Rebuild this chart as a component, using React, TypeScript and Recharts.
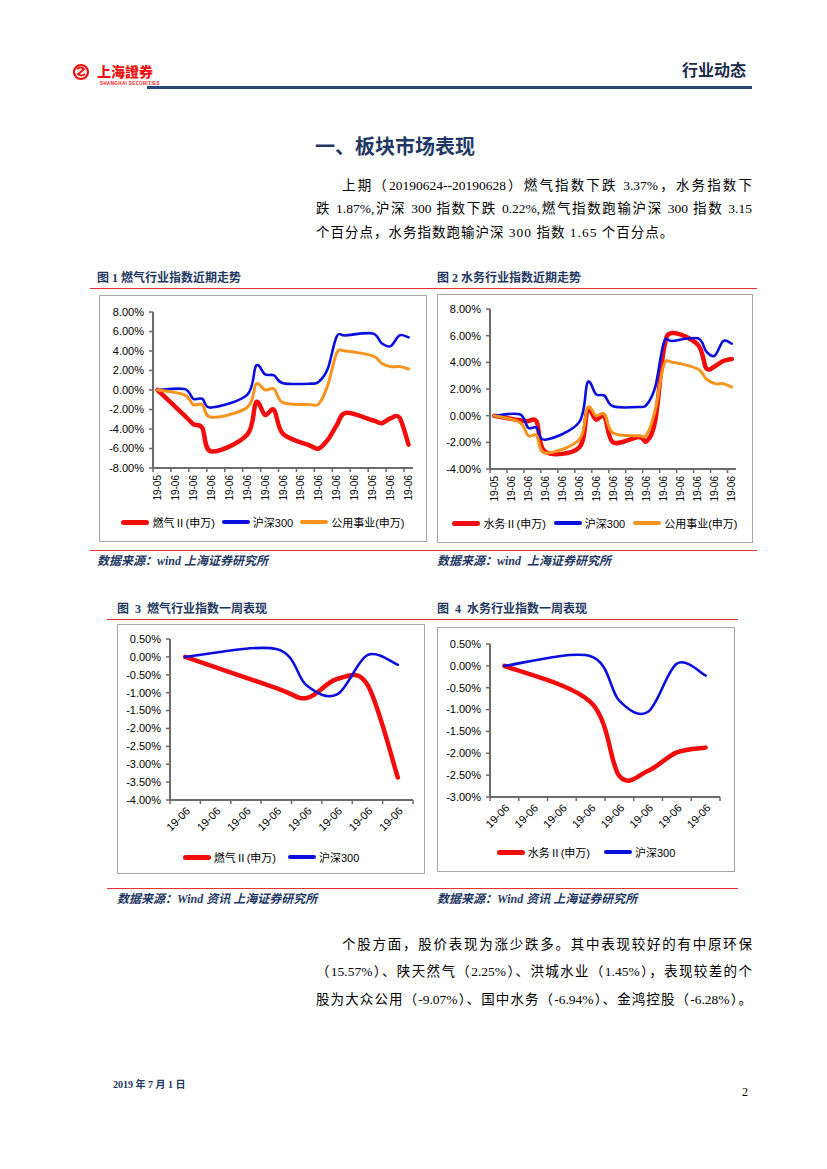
import React from 'react';
import { LineChart, Line, XAxis, YAxis } from 'recharts';

// 近期走势：日期轴 2019-05-31 ~ 2019-06-28（交易日）
const trendDates = [
  '2019-05-31', '2019-06-03', '2019-06-04', '2019-06-05', '2019-06-06',
  '2019-06-10', '2019-06-11', '2019-06-12', '2019-06-13', '2019-06-14',
  '2019-06-17', '2019-06-18', '2019-06-19', '2019-06-20', '2019-06-21',
  '2019-06-24', '2019-06-25', '2019-06-26', '2019-06-27', '2019-06-28',
];
const gasTrend = [0, -2.6, -3.5, -3.9, -6.3, -4.6, -1.25, -2.55, -2.05, -4.5, -5.7, -6.0, -5.1, -3.6, -2.35, -3.1, -3.4, -2.9, -2.85, -5.6];
const waterTrend = [0, -0.35, -0.4, -0.45, -2.7, -2.4, 0.4, -0.3, -0.05, -2.0, -1.6, -1.9, -0.3, 5.0, 6.2, 5.32, 3.55, 3.7, 4.1, 4.25];
const hs300Trend = [0, 0.1, -0.9, -0.9, -1.8, -0.5, 2.5, 1.6, 1.5, 0.7, 0.65, 0.85, 2.2, 5.5, 5.6, 5.8, 4.8, 4.5, 5.6, 5.4];
const utilityTrend = [0, -0.5, -1.5, -1.5, -2.8, -1.8, 0.6, 0.0, 0.1, -1.3, -1.5, -1.4, 0.5, 3.8, 4.0, 3.5, 2.75, 2.4, 2.4, 2.15];
const trendTickLabels = ['19-05', '19-06', '19-06', '19-06', '19-06', '19-06', '19-06', '19-06', '19-06', '19-06', '19-06', '19-06', '19-06', '19-06', '19-06'];
const gasTrendTicks = [-8, -6, -4, -2, 0, 2, 4, 6, 8];
const waterTrendTicks = [-4, -2, 0, 2, 4, 6, 8];

// 一周表现：日期轴 2019-06-21 ~ 2019-06-28
const weekDates = ['2019-06-21', '2019-06-24', '2019-06-25', '2019-06-26', '2019-06-27', '2019-06-28'];
const gasWeek = [0, -0.87, -1.15, -0.62, -0.78, -3.37];
const waterWeek = [0, -0.83, -2.52, -2.4, -1.98, -1.87];
const hs300Week = [0, 0.22, -0.8, -1.05, 0.05, -0.22];
const weekTickLabels = ['19-06', '19-06', '19-06', '19-06', '19-06', '19-06', '19-06', '19-06'];
const gasWeekTicks = [-4, -3.5, -3, -2.5, -2, -1.5, -1, -0.5, 0, 0.5];
const waterWeekTicks = [-3, -2.5, -2, -1.5, -1, -0.5, 0, 0.5];

const SANS = '"Liberation Sans", Arial, "Noto Sans CJK SC", sans-serif';
const SERIF = '"Liberation Serif", "Times New Roman", "Noto Sans CJK SC", serif';
const CJK = '"Noto Sans CJK SC", sans-serif';
const NAVY = '#1F3864';
const RULE = '#E3342F';
const AXIS = '#6b6b6b';

const RED = '#F20D0D';
const BLUE = '#0A0FE0';
const ORANGE = '#F7941D';

type Series = { key: string; name: string; color: string; width: number };

const dayOffset = (dates: string[]) =>
  dates.map((d) => Math.round((Date.parse(d) - Date.parse(dates[0])) / 86400000));

const buildRows = (dates: string[], cols: Record<string, number[]>) => {
  const days = dayOffset(dates);
  return days.map((day, i) => {
    const row: Record<string, number> = { day };
    Object.keys(cols).forEach((k) => (row[k] = cols[k][i]));
    return row;
  });
};

const gasTrendRows = buildRows(trendDates, { gas: gasTrend, hs300: hs300Trend, util: utilityTrend });
const waterTrendRows = buildRows(trendDates, { water: waterTrend, hs300: hs300Trend, util: utilityTrend });
const gasWeekRows = buildRows(weekDates, { gas: gasWeek, hs300: hs300Week });
const waterWeekRows = buildRows(weekDates, { water: waterWeek, hs300: hs300Week });

const gasSeries: Series[] = [
  { key: 'gas', name: '燃气Ⅱ(申万)', color: RED, width: 4.5 },
  { key: 'hs300', name: '沪深300', color: BLUE, width: 2.6 },
  { key: 'util', name: '公用事业(申万)', color: ORANGE, width: 3 },
];
const waterSeries: Series[] = [
  { key: 'water', name: '水务Ⅱ(申万)', color: RED, width: 4.5 },
  { key: 'hs300', name: '沪深300', color: BLUE, width: 2.6 },
  { key: 'util', name: '公用事业(申万)', color: ORANGE, width: 3 },
];

// Excel 风格平滑线（Catmull-Rom）
const excelSmooth = (context: any) => {
  let pts: [number, number][] = [];
  return {
    areaStart() {},
    areaEnd() {},
    lineStart() {
      pts = [];
    },
    point(x: number, y: number) {
      pts.push([+x, +y]);
    },
    lineEnd() {
      if (!pts.length) return;
      context.moveTo(pts[0][0], pts[0][1]);
      for (let i = 0; i < pts.length - 1; i++) {
        const p0 = pts[Math.max(i - 1, 0)];
        const p1 = pts[i];
        const p2 = pts[i + 1];
        const p3 = pts[Math.min(i + 2, pts.length - 1)];
        context.bezierCurveTo(
          p1[0] + (p2[0] - p0[0]) / 6,
          p1[1] + (p2[1] - p0[1]) / 6,
          p2[0] - (p3[0] - p1[0]) / 6,
          p2[1] - (p3[1] - p1[1]) / 6,
          p2[0],
          p2[1]
        );
      }
    },
  };
};

interface ChartProps {
  left: number;
  top: number;
  width: number;
  height: number;
  marginTop: number;
  marginRight: number;
  yAxisWidth: number;
  xAxisHeight: number;
  data: Record<string, number>[];
  series: Series[];
  yTicks: number[];
  xSpan: number;
  tickLabels: string[];
  tickStep: number;
  endTick: boolean;
  angle: number;
}

function IndexChart(p: ChartProps) {
  const plotW = p.width - p.marginRight - p.yAxisWidth;
  const bandPx = plotW / p.xSpan;
  const xTicks = p.tickLabels.map((_, k) => -0.5 + p.tickStep * k);
  if (p.endTick) xTicks.push(p.xSpan - 0.5);

  const renderTick = (props: any) => {
    const { x, y, index } = props;
    const label = p.tickLabels[index];
    if (!label) return <g />;
    const cx = x + bandPx / 2;
    if (p.angle === -90) {
      return (
        <text
          transform={`translate(${cx},${y + 1}) rotate(-90)`}
          textAnchor="end"
          dominantBaseline="central"
          fontSize={10}
          fontFamily={SANS}
          fill="#000"
        >
          {label}
        </text>
      );
    }
    return (
      <text
        transform={`translate(${cx + 3},${y + 3}) rotate(-45)`}
        textAnchor="end"
        dy="0.35em"
        fontSize={11}
        fontFamily={SANS}
        fill="#000"
      >
        {label}
      </text>
    );
  };

  return (
    <div style={{ position: 'absolute', left: p.left, top: p.top }}>
      <LineChart
        width={p.width}
        height={p.height}
        data={p.data}
        margin={{ top: p.marginTop, right: p.marginRight, bottom: 0, left: 0 }}
      >
        <XAxis
          type="number"
          dataKey="day"
          domain={[-0.5, p.xSpan - 0.5]}
          ticks={xTicks}
          interval={0}
          height={p.xAxisHeight}
          tickSize={4}
          tickMargin={2}
          axisLine={{ stroke: AXIS, strokeWidth: 2 }}
          tickLine={{ stroke: AXIS, strokeWidth: 1.5 }}
          tick={renderTick}
        />
        <YAxis
          type="number"
          domain={[p.yTicks[0], p.yTicks[p.yTicks.length - 1]]}
          ticks={p.yTicks}
          interval={0}
          width={p.yAxisWidth}
          tickSize={4}
          tickMargin={5}
          axisLine={{ stroke: AXIS, strokeWidth: 2 }}
          tickLine={{ stroke: AXIS, strokeWidth: 1.5 }}
          tick={{ fill: '#000', fontSize: 11, fontFamily: SANS }}
          tickFormatter={(v: number) => `${v.toFixed(2)}%`}
        />
        {p.series.map((s) => (
          <Line
            key={s.key}
            dataKey={s.key}
            name={s.name}
            type={excelSmooth as any}
            stroke={s.color}
            strokeWidth={s.width}
            strokeLinecap="round"
            strokeLinejoin="round"
            dot={false}
            activeDot={false}
            isAnimationActive={false}
          />
        ))}
      </LineChart>
    </div>
  );
}

function LegendRow({ series, left, top, width, gap }: { series: Series[]; left: number; top: number; width: number; gap: number }) {
  return (
    <div
      style={{
        position: 'absolute',
        left,
        top,
        width,
        height: 16,
        display: 'flex',
        justifyContent: 'center',
        alignItems: 'center',
        fontFamily: SANS,
        fontSize: 11,
        color: '#000',
        whiteSpace: 'nowrap',
      }}
    >
      {series.map((s, i) => (
        <div key={s.key} style={{ display: 'flex', alignItems: 'center', marginLeft: i ? gap : 0 }}>
          <span style={{ display: 'inline-block', width: 28, height: s.width + 0.5, background: s.color, borderRadius: 3 }} />
          <span style={{ marginLeft: 3 }}>{s.name}</span>
        </div>
      ))}
    </div>
  );
}

const Rule = ({ left, top, width }: { left: number; top: number; width: number }) => (
  <div style={{ position: 'absolute', left, top, width, height: 1.5, background: RULE }} />
);

const Box = ({ left, top, width, height }: { left: number; top: number; width: number; height: number }) => (
  <div style={{ position: 'absolute', left, top, width, height, border: '1px solid #a6a6a6', boxSizing: 'border-box' }} />
);

const Caption = ({ left, top, children }: { left: number; top: number; children: React.ReactNode }) => (
  <div
    style={{
      position: 'absolute',
      left,
      top,
      fontFamily: SERIF,
      fontWeight: 'bold',
      fontSize: 12,
      lineHeight: '16px',
      color: NAVY,
      whiteSpace: 'pre',
    }}
  >
    {children}
  </div>
);

const Source = ({ left, top, children }: { left: number; top: number; children: React.ReactNode }) => (
  <div
    style={{
      position: 'absolute',
      left,
      top,
      fontFamily: SERIF,
      fontWeight: 'bold',
      fontStyle: 'italic',
      fontSize: 12,
      lineHeight: '16px',
      color: NAVY,
      whiteSpace: 'pre',
    }}
  >
    {children}
  </div>
);

const TextLine = ({ top, indent, justify, spacing, children }: { top: number; indent?: boolean; justify?: boolean; spacing?: number; children: React.ReactNode }) => (
  <div
    style={{
      position: 'absolute',
      left: indent ? 342 : 316,
      top,
      width: indent ? 410 : 436,
      fontFamily: SERIF,
      fontSize: 13.5,
      lineHeight: '20px',
      color: '#000',
      letterSpacing: spacing ?? 0,
      textAlign: 'justify',
      textAlignLast: justify ? 'justify' : 'left',
    }}
  >
    {children}
  </div>
);

export default function App() {
  return (
    <div style={{ position: 'absolute', left: 0, top: 0, width: 827, height: 1169, background: '#fff', overflow: 'hidden' }}>
      {/* 页眉 */}
      <svg style={{ position: 'absolute', left: 72, top: 63 }} width={18} height={18}>
        <circle cx={9} cy={9} r={7} fill="none" stroke="#E11" strokeWidth={2.2} />
        <path d="M5 6 Q9 3 12 6 Q9 9 6 11 Q9 14 13 11" fill="none" stroke="#E11" strokeWidth={2} />
      </svg>
      <div
        style={{
          position: 'absolute',
          left: 97,
          top: 62,
          fontFamily: CJK,
          fontWeight: 900,
          fontSize: 14,
          lineHeight: '18px',
          color: '#E11',
        }}
      >
        上海證券
      </div>
      <div
        style={{
          position: 'absolute',
          left: 100,
          top: 81,
          fontFamily: SANS,
          fontWeight: 'bold',
          fontSize: 4.5,
          lineHeight: '6px',
          color: '#E11',
          letterSpacing: 0.4,
          whiteSpace: 'nowrap',
        }}
      >
        SHANGHAI SECURITIES
      </div>
      <div
        style={{
          position: 'absolute',
          left: 682,
          top: 59,
          fontFamily: CJK,
          fontWeight: 'bold',
          fontSize: 16,
          lineHeight: '20px',
          color: '#1b2a48',
        }}
      >
        行业动态
      </div>
      <div style={{ position: 'absolute', left: 147, top: 86, width: 605, height: 2.5, background: '#244A7C' }} />

      {/* 标题与正文 */}
      <div
        style={{
          position: 'absolute',
          left: 315,
          top: 132,
          fontFamily: CJK,
          fontWeight: 'bold',
          fontSize: 20,
          lineHeight: '28px',
          color: NAVY,
        }}
      >
        一、板块市场表现
      </div>
      <TextLine top={176} indent justify>
        上期（20190624--20190628）燃气指数下跌 3.37%，水务指数下
      </TextLine>
      <TextLine top={199} justify>
        跌 1.87%,沪深 300 指数下跌 0.22%,燃气指数跑输沪深 300 指数 3.15
      </TextLine>
      <TextLine top={223} spacing={1}>个百分点，水务指数跑输沪深 300 指数 1.65 个百分点。</TextLine>

      {/* 图 1 / 图 2 */}
      <Caption left={97} top={270}>图 1 燃气行业指数近期走势</Caption>
      <Caption left={437} top={270}>图 2 水务行业指数近期走势</Caption>
      <Rule left={90} top={287.5} width={667} />
      <Box left={99} top={295} width={328} height={247} />
      <Box left={437} top={294} width={316} height={249} />
      <IndexChart
        left={99}
        top={295}
        width={328}
        height={213}
        marginTop={17}
        marginRight={14}
        yAxisWidth={54}
        xAxisHeight={40}
        data={gasTrendRows}
        series={gasSeries}
        yTicks={gasTrendTicks}
        xSpan={29}
        tickLabels={trendTickLabels}
        tickStep={2}
        endTick={false}
        angle={-90}
      />
      <IndexChart
        left={437}
        top={294}
        width={316}
        height={215}
        marginTop={15}
        marginRight={17}
        yAxisWidth={53}
        xAxisHeight={40}
        data={waterTrendRows}
        series={waterSeries}
        yTicks={waterTrendTicks}
        xSpan={29}
        tickLabels={trendTickLabels}
        tickStep={2}
        endTick={false}
        angle={-90}
      />
      <LegendRow series={gasSeries} left={99} top={514} width={328} gap={7} />
      <LegendRow series={waterSeries} left={437} top={515} width={316} gap={8} />
      <Rule left={90} top={549.5} width={667} />
      <Source left={97} top={553}>数据来源：wind 上海证券研究所</Source>
      <Source left={437} top={553}>数据来源：wind  上海证券研究所</Source>

      {/* 图 3 / 图 4 */}
      <Caption left={117} top={601}>图  3  燃气行业指数一周表现</Caption>
      <Caption left={437} top={601}>图  4  水务行业指数一周表现</Caption>
      <Rule left={107} top={618.5} width={631} />
      <Box left={117} top={624} width={308} height={250} />
      <Box left={437} top={627} width={298} height={245} />
      <IndexChart
        left={117}
        top={624}
        width={308}
        height={221}
        marginTop={15}
        marginRight={12}
        yAxisWidth={53}
        xAxisHeight={45}
        data={gasWeekRows}
        series={gasSeries.slice(0, 2)}
        yTicks={gasWeekTicks}
        xSpan={8}
        tickLabels={weekTickLabels}
        tickStep={1}
        endTick
        angle={-45}
      />
      <IndexChart
        left={437}
        top={627}
        width={298}
        height={215}
        marginTop={17}
        marginRight={15}
        yAxisWidth={53}
        xAxisHeight={45}
        data={waterWeekRows}
        series={waterSeries.slice(0, 2)}
        yTicks={waterWeekTicks}
        xSpan={8}
        tickLabels={weekTickLabels}
        tickStep={1}
        endTick
        angle={-45}
      />
      <LegendRow series={gasSeries.slice(0, 2)} left={117} top={849} width={308} gap={12} />
      <LegendRow series={waterSeries.slice(0, 2)} left={437} top={844} width={298} gap={14} />
      <Rule left={107} top={887.5} width={631} />
      <Source left={117} top={891}>数据来源：Wind 资讯 上海证券研究所</Source>
      <Source left={437} top={891}>数据来源：Wind 资讯 上海证券研究所</Source>

      {/* 个股 */}
      <TextLine top={935} indent justify>
        个股方面，股价表现为涨少跌多。其中表现较好的有中原环保
      </TextLine>
      <TextLine top={962} justify>
        （15.57%）、陕天然气（2.25%）、洪城水业（1.45%），表现较差的个
      </TextLine>
      <TextLine top={990} justify>
        股为大众公用（-9.07%）、国中水务（-6.94%）、金鸿控股（-6.28%）。
      </TextLine>

      {/* 页脚 */}
      <div
        style={{
          position: 'absolute',
          left: 113,
          top: 1078,
          fontFamily: SERIF,
          fontWeight: 'bold',
          fontSize: 10,
          lineHeight: '14px',
          color: NAVY,
          whiteSpace: 'pre',
        }}
      >
        2019 年 7 月 1 日
      </div>
      <div
        style={{
          position: 'absolute',
          left: 742,
          top: 1084,
          fontFamily: SERIF,
          fontSize: 12,
          lineHeight: '16px',
          color: '#000',
        }}
      >
        2
      </div>
    </div>
  );
}
